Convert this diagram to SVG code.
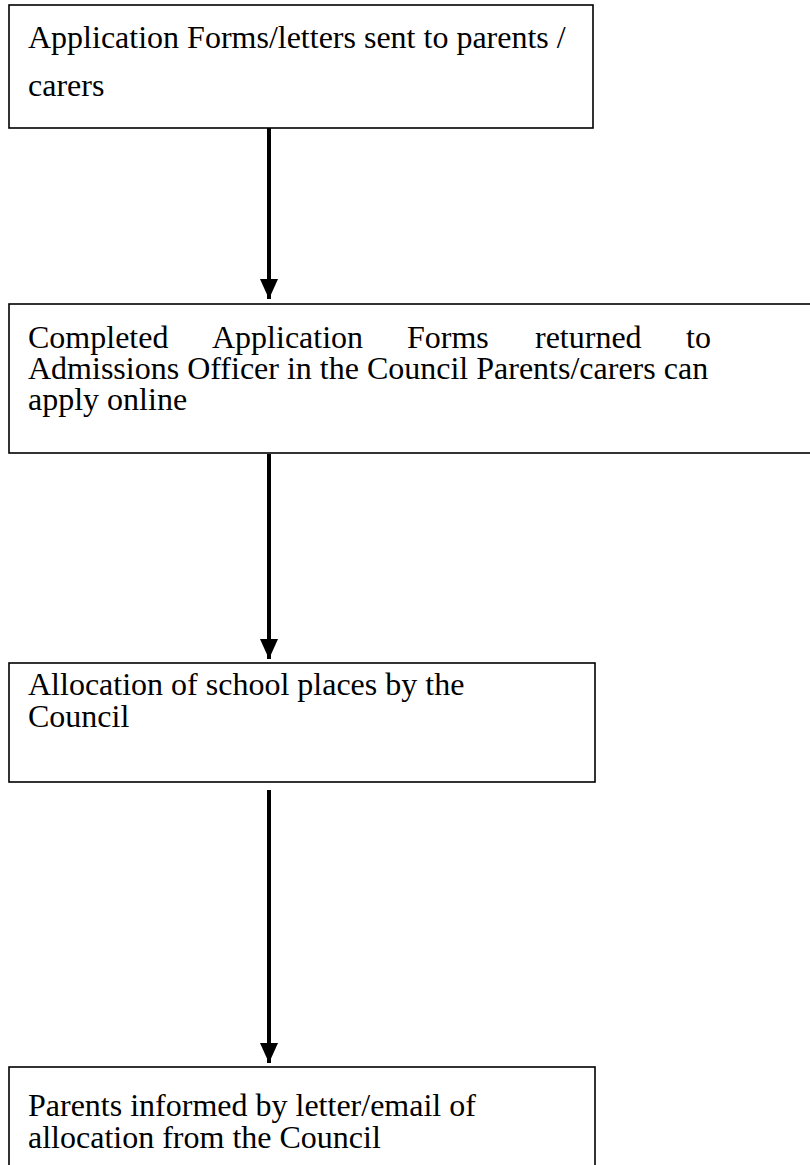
<svg xmlns="http://www.w3.org/2000/svg" width="810" height="1165" viewBox="0 0 810 1165">
<style>
.box{fill:#fff;stroke:#000;stroke-width:1.6}
.t{font-family:"Liberation Serif","Times New Roman",serif;font-size:32px;fill:#000}
.c{stroke:#000;stroke-width:4;fill:none}
</style>
<defs>
<marker id="ah" markerUnits="userSpaceOnUse" markerWidth="22" markerHeight="18" refX="20" refY="9" orient="auto">
<path d="M0,0 L20,9 L0,18 Z" fill="#000"/>
</marker>
</defs>
<rect width="810" height="1165" fill="#fff"/>
<g id="connectors">
<line class="c" x1="269" y1="126" x2="269" y2="299" marker-end="url(#ah)"/>
<line class="c" x1="269" y1="454" x2="269" y2="659" marker-end="url(#ah)"/>
<line class="c" x1="269" y1="790" x2="269" y2="1063" marker-end="url(#ah)"/>
</g>
<g id="node1">
<rect class="box" x="9" y="5" width="584" height="123"/>
<text class="t" x="28" y="48">Application Forms/letters sent to parents /</text>
<text class="t" x="28" y="96">carers</text>
</g>
<g id="node2">
<rect class="box" x="9" y="304" width="810" height="149"/>
<text class="t" y="348"><tspan x="28">Completed</tspan><tspan x="212">Application</tspan><tspan x="407">Forms</tspan><tspan x="535">returned</tspan><tspan x="686">to</tspan></text>
<text class="t" x="28" y="379">Admissions Officer in the Council Parents/carers can</text>
<text class="t" x="28" y="410">apply online</text>
</g>
<g id="node3">
<rect class="box" x="9" y="663" width="586" height="119"/>
<text class="t" x="28" y="695">Allocation of school places by the</text>
<text class="t" x="28" y="727">Council</text>
</g>
<g id="node4">
<rect class="box" x="9" y="1067" width="586" height="110"/>
<text class="t" x="28" y="1116">Parents informed by letter/email of</text>
<text class="t" x="28" y="1148">allocation from the Council</text>
</g>
</svg>
